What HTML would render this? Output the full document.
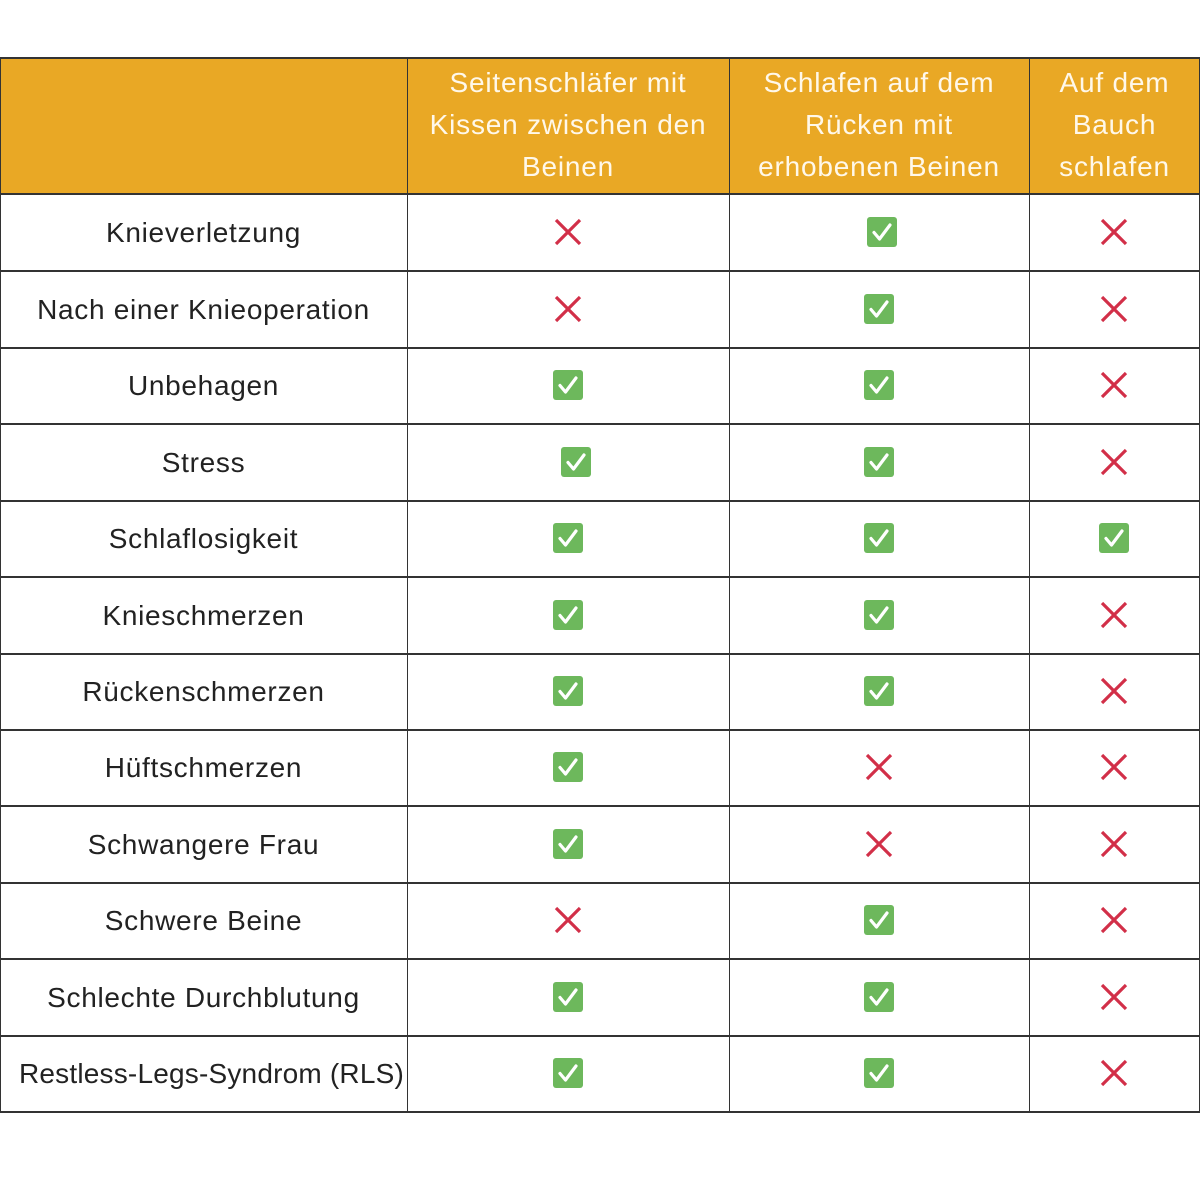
<!DOCTYPE html>
<html><head><meta charset="utf-8"><style>
body{margin:0;width:1200px;height:1200px;background:#fff;position:relative;overflow:hidden;font-family:"Liberation Sans",sans-serif}
.h{position:absolute;top:58px;height:136px;background:#E9A825}
.ht{position:absolute;color:#fff8ea;font-size:28px;letter-spacing:0.8px;line-height:42px;text-align:center;top:62px}
.lab{position:absolute;left:0;width:407px;text-align:center;font-size:28px;letter-spacing:0.7px;color:#222;white-space:nowrap}
.vl{position:absolute;top:58px;height:1055px;width:1.5px;background:#333}
.hl{position:absolute;left:0;width:1200px;height:1.5px;background:#333}
</style></head><body>
<div class="h" style="left:0;width:1200px"></div>
<div class="ht" style="left:407px;width:322px">Seitenschläfer mit<br>Kissen zwischen den<br>Beinen</div>
<div class="ht" style="left:729px;width:300px">Schlafen auf dem<br>Rücken mit<br>erhobenen Beinen</div>
<div class="ht" style="left:1029px;width:171px">Auf dem<br>Bauch<br>schlafen</div>
<div id="g"></div>
<script>
var rows=[194,271,348,424,501,577,654,730,806,883,959,1036,1112];
var labs=["Knieverletzung","Nach einer Knieoperation","Unbehagen","Stress","Schlaflosigkeit","Knieschmerzen","Rückenschmerzen","Hüftschmerzen","Schwangere Frau","Schwere Beine","Schlechte Durchblutung","Restless-Legs-Syndrom (RLS)"];
var d=["xcx","xcx","ccx","ccx","ccc","ccx","ccx","cxx","cxx","xcx","ccx","ccx"];
var h="";
[58,194,271,348,424,501,577,654,730,806,883,959,1036,1112].forEach(function(y){h+='<div class="hl" style="top:'+(y-1)+'px"></div>'});
[0,407,729,1029,1199].forEach(function(x){h+='<div class="vl" style="left:'+(x-0.5)+'px"></div>'});
var cx=[568,879,1114];
for(var i=0;i<12;i++){
 var mid=(rows[i]+rows[i+1])/2;
 h+='<div class="lab" style="top:'+(mid-16)+'px;'+(i==11?'letter-spacing:0.2px;left:8px;width:407px;':'')+'">'+labs[i]+'</div>';
 for(var j=0;j<3;j++){
  var x=cx[j];if(i==3&&j==0)x=576;if(i==0&&j==1)x=882;
  var y=mid-1;
  if(d[i][j]=="c"){
   h+='<svg style="position:absolute;left:'+(x-15)+'px;top:'+(y-15)+'px" width="30" height="30"><rect width="30" height="30" rx="3" fill="#6DB85C"/><path d="M7 15.5 L12.5 22 L23 8" stroke="#fff" stroke-width="3.2" fill="none" stroke-linecap="round" stroke-linejoin="round"/></svg>';
  }else{
   h+='<svg style="position:absolute;left:'+(x-15)+'px;top:'+(y-15)+'px" width="30" height="30"><path d="M3 3L27 27M27 3L3 27" stroke="#D22F48" stroke-width="3.2"/></svg>';
  }
 }
}
document.getElementById("g").innerHTML=h;
</script>
</body></html>
